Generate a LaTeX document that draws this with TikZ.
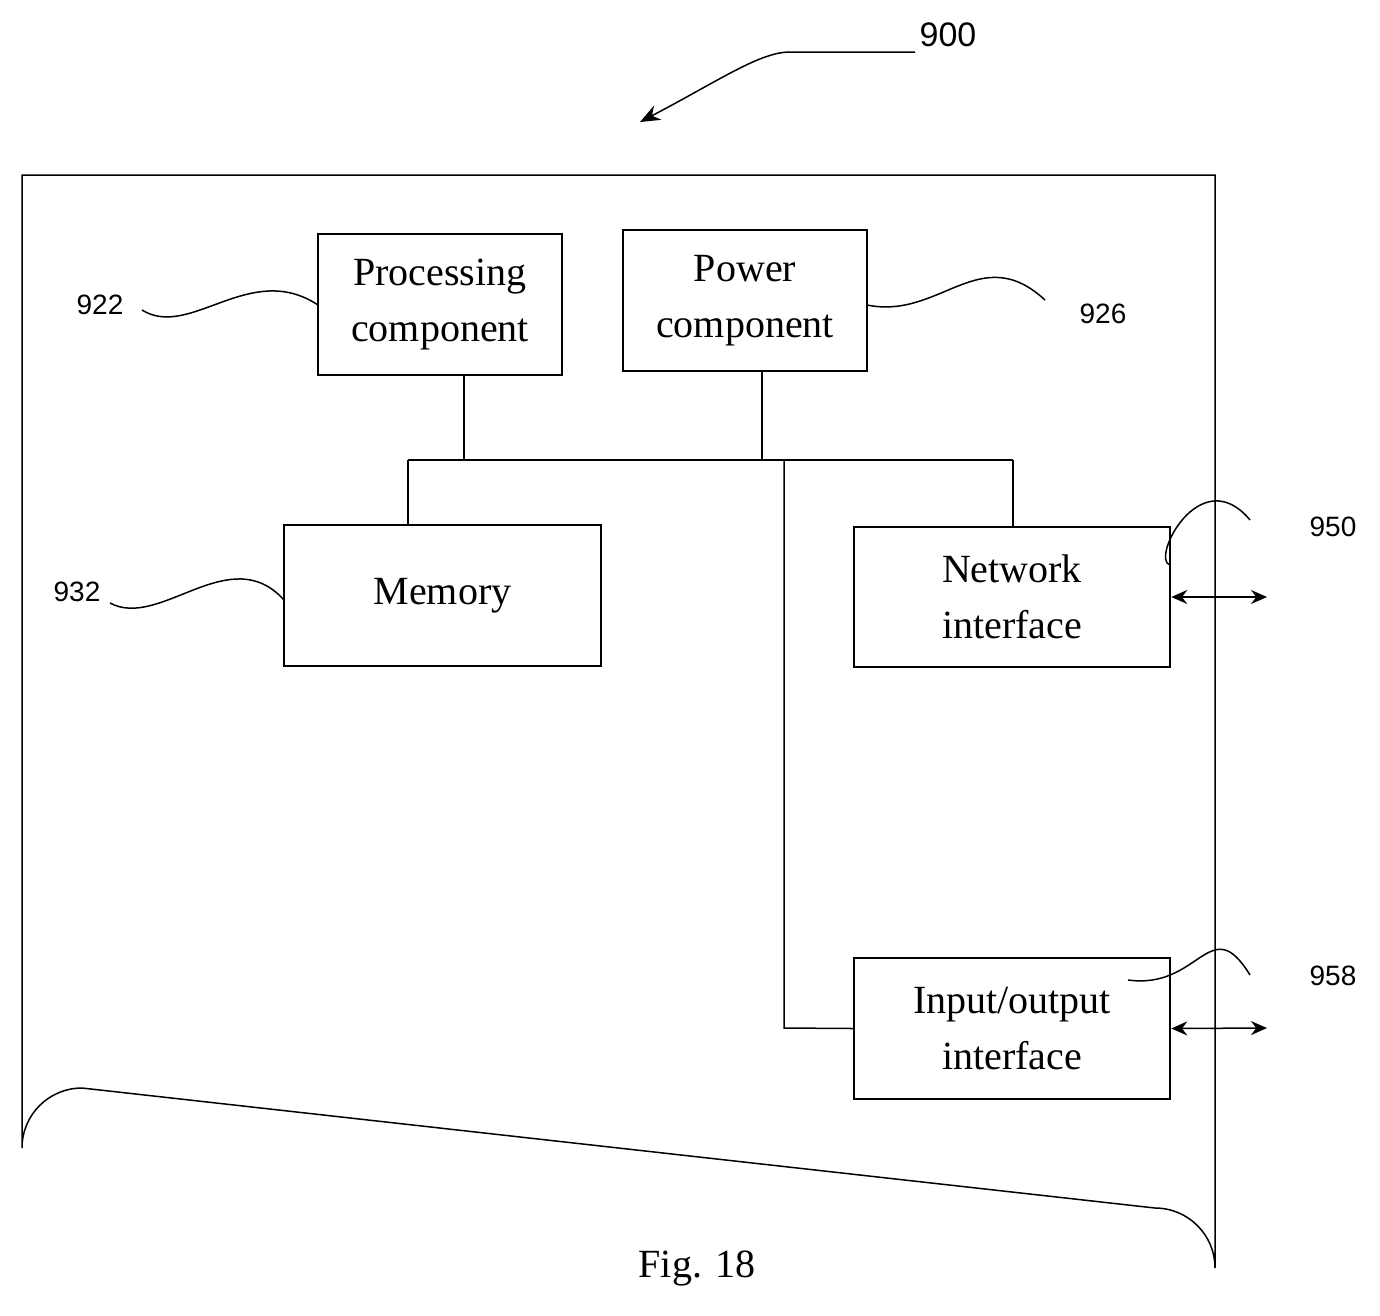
\documentclass[tikz,border=0pt]{standalone}
\usepackage{fontspec}
\setmainfont{Liberation Serif}
\newfontfamily\lab{Liberation Sans}
\usetikzlibrary{arrows.meta}
\begin{document}
\begin{tikzpicture}[x=1pt,y=-1pt,
  box/.style={draw,line width=2.5pt,inner sep=0pt,align=center,font=\fontsize{40}{56}\selectfont},
  ln/.style={line width=1.5pt},
  lbl/.style={font=\lab\fontsize{28}{32}\selectfont}]
\useasboundingbox (0,0) rectangle (1380,1315);
\draw[ln] (22,175) -- (22,1148) arc[start angle=180,end angle=270,radius=60] -- (1155,1208) arc[start angle=270,end angle=360,radius=60] -- (1215,175) -- cycle;
\node[box,minimum width=244,minimum height=141] (proc) at (440,304.5) {Processing\\component};
\node[box,minimum width=244,minimum height=141] (pow) at (745,300.5) {Power\\component};
\node[box,minimum width=317,minimum height=141] (mem) at (442.5,595.5) {Memory};
\node[box,minimum width=316,minimum height=140] (net) at (1012,597) {Network\\interface};
\node[box,minimum width=316,minimum height=141] (io) at (1012,1028.5) {Input/output\\interface};
\coordinate (bl) at (408,460); \coordinate (br) at (1013,460);
\draw[ln] (bl) -- (br);
\draw[ln] (proc.south -| 464,0) -- (464,460);
\draw[ln] (pow.south -| 762,0) -- (762,460);
\draw[ln] (mem.north -| 408,0) -- (bl);
\draw[ln] (net.north -| 1013,0) -- (br);
\draw[ln] (784,460) -- (784,1028) -- (io.west);
\coordinate (na) at (1267,597); \coordinate (ia) at (1267,1028);
\draw[ln,{Stealth[length=16,width=14]}-{Stealth[length=16,width=14]}] (net.east) -- (na);
\draw[ln,{Stealth[length=16,width=14]}-{Stealth[length=16,width=14]}] (io.east) -- (ia);
\node[lbl] (l922) at (100,305) {922};
\node[lbl] (l926) at (1103,314) {926};
\node[lbl] (l932) at (77,592) {932};
\node[lbl] (l950) at (1333,527) {950};
\node[lbl] (l958) at (1333,976) {958};
\node[lbl,font=\lab\fontsize{34}{38}\selectfont] (l900) at (948,35) {900};
\node[font=\fontsize{40}{48}\selectfont] (fig) at (697,1268) {Fig. 18};
\draw[ln] (142,310) .. controls (190,340) and (250,260) .. (318,305);
\draw[ln] (867,305) .. controls (940,320) and (980,240) .. (1045,300);
\draw[ln] (110,603) .. controls (160,630) and (230,540) .. (284,600);
\draw[ln] (1170,565) .. controls (1150,560) and (1200,460) .. (1250,520);
\draw[ln] (1128,980) .. controls (1200,990) and (1210,910) .. (1250,975);
\draw[ln,-{Stealth[length=20,width=16]}] (915,52) -- (790,52) .. controls (760,52) and (720,80) .. (640,122);
\end{tikzpicture}
\end{document}
